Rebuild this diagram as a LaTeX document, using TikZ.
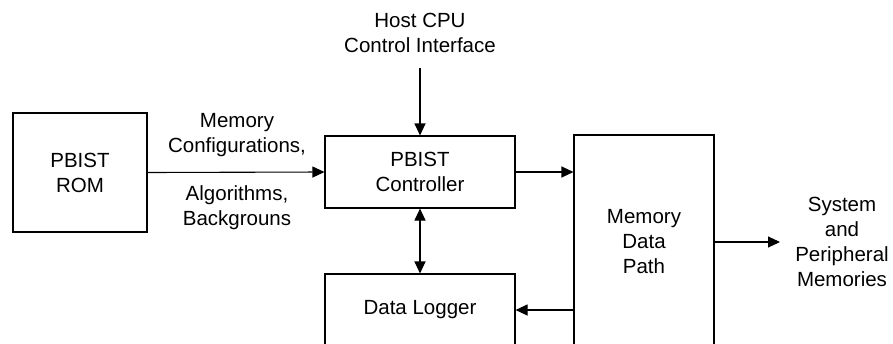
\documentclass[tikz,border=0pt]{standalone}
\usepackage{fontspec}
\setmainfont{Liberation Sans}
\usetikzlibrary{arrows.meta}
\begin{document}
\begin{tikzpicture}[x=1pt,y=-1pt,
  every node/.style={font=\fontsize{20.5}{25}\selectfont, align=center, inner sep=0pt},
  blk/.style={draw, line width=1.1pt, minimum width=#1},
  lbl/.style={},
  conn/.style={line width=1.1pt, -{Triangle[length=12pt,width=11pt]}},
  bconn/.style={line width=1.1pt, {Triangle[length=12pt,width=11pt]}-{Triangle[length=12pt,width=11pt]}}]
\useasboundingbox (0,0) rectangle (893,343);
\clip (0,0) rectangle (893,343);
\node[blk=134pt, minimum height=119pt] (rom) at (80,172.5) {PBIST\\ROM};
\node[blk=190pt, minimum height=72pt] (ctrl) at (420,172) {PBIST\\Controller};
\node[blk=190pt, minimum height=72pt] (logger) at (420,310) {Data Logger};
\node[blk=140pt, minimum height=214pt] (mdp) at (644,242) {Memory\\Data\\Path};
\node[lbl] (host) at (420,33) {Host CPU\\Control Interface};
\node[lbl] (cfg) at (237,135.5) {Memory\\Configurations,};
\node[lbl] (alg) at (237,208) {Algorithms,\\Backgrouns};
\node[lbl] (mem) at (842,242) {System\\and\\Peripheral\\Memories};
\coordinate (hostend) at (420,68);
\coordinate (outend) at (780,242);
\draw[conn] (rom.east) -- (ctrl.west);
\draw[conn] (hostend) -- (ctrl.north);
\draw[conn] (ctrl.east) -- (ctrl.east -| mdp.west);
\draw[bconn] (ctrl.south) -- (logger.north);
\draw[conn] (logger.east -| mdp.west) -- (logger.east);
\draw[conn] (mdp.east) -- (outend);
\end{tikzpicture}
\end{document}
